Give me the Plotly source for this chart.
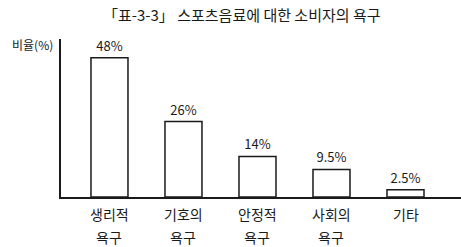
import plotly.graph_objects as go

categories = ["생리적 욕구", "기호의 욕구", "안정적 욕구", "사회의 욕구", "기타"]
line1 = ["생리적", "기호의", "안정적", "사회의", "기타"]
line2 = ["욕구", "욕구", "욕구", "욕구", ""]
values = [48, 26, 14, 9.5, 2.5]
value_labels = ["48%", "26%", "14%", "9.5%", "2.5%"]

title = "「표-3-3」 스포츠음료에 대한 소비자의 욕구"
y_title = "비율(%)"

FONT = "Noto Sans CJK KR"
INK = "#1a1a1a"

fig = go.Figure()
fig.add_trace(go.Bar(
    x=list(range(len(categories))),
    y=values,
    width=0.5,
    marker=dict(color="white", line=dict(color=INK, width=1.5)),
    text=value_labels,
    textposition="outside",
    textfont=dict(family=FONT, size=13, color=INK),
    cliponaxis=False,
    hovertext=categories,
))

annotations = []
for i, (a, b) in enumerate(zip(line1, line2)):
    annotations.append(dict(x=i, y=0, xref="x", yref="y", text=a, showarrow=False,
                            yanchor="middle", yshift=-17,
                            font=dict(family=FONT, size=14, color=INK)))
    if b:
        annotations.append(dict(x=i, y=0, xref="x", yref="y", text=b, showarrow=False,
                                yanchor="middle", yshift=-40,
                                font=dict(family=FONT, size=14, color=INK)))
annotations.append(dict(x=0, y=1, xref="paper", yref="paper", text=y_title, showarrow=False,
                        xanchor="right", yanchor="middle", xshift=-6, yshift=-5,
                        font=dict(family=FONT, size=12, color=INK)))
annotations.append(dict(x=0.5, y=1, xref="paper", yref="paper", text=title, showarrow=False,
                        xanchor="center", yanchor="middle", yshift=25, xshift=-19,
                        font=dict(family=FONT, size=15, color=INK)))

fig.update_layout(
    width=461, height=247,
    margin=dict(l=61, r=0, t=39, b=50),
    paper_bgcolor="white", plot_bgcolor="white",
    showlegend=False,
    annotations=annotations,
    xaxis=dict(range=[-0.655, 4.75], showticklabels=False, ticks="", showgrid=False,
               zeroline=False, showline=True, linecolor=INK, linewidth=1.5),
    yaxis=dict(range=[0, 54.5], showticklabels=False, ticks="", showgrid=False,
               zeroline=False, showline=True, linecolor=INK, linewidth=1.5),
)

fig.write_html("out.html")
